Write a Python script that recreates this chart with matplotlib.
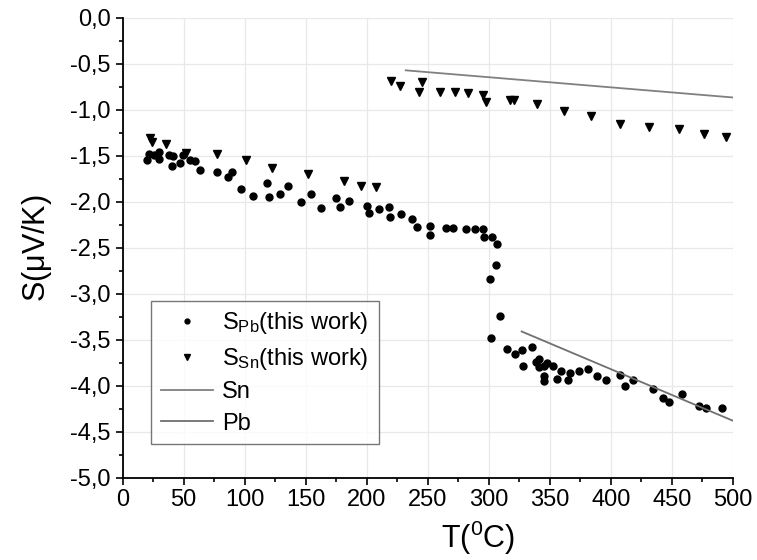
import matplotlib
matplotlib.use("Agg")
from matplotlib import pyplot as plt
from matplotlib.ticker import MultipleLocator, FuncFormatter

plt.rcParams['font.family'] = ['Liberation Sans', 'DejaVu Sans']
plt.rcParams['mathtext.fontset'] = 'custom'
plt.rcParams['mathtext.rm'] = 'Liberation Sans'
plt.rcParams['mathtext.it'] = 'Liberation Sans'
plt.rcParams['mathtext.default'] = 'regular'

# S_Pb measured (circles)
tPb = [19.8, 22.0, 25.3, 30.2, 30.2, 37.6, 41.1, 40.3, 47.1, 49.8, 54.8, 59.4, 63.0,
       77.2, 86.7, 90.0, 97.1, 106.7, 118.2, 120.1, 129.1, 135.4, 146.3, 154.5, 162.4,
       175.0, 178.3, 185.1, 200.1, 202.0, 210.2, 218.4, 219.3, 228.3, 237.0, 241.6,
       252.0, 252.0, 264.9, 270.6, 281.3, 289.0, 295.2, 296.3, 302.6, 306.7, 306.1,
       300.7, 309.4, 301.8, 314.9, 321.7, 327.2, 328.0, 335.4, 338.9, 341.6, 340.8,
       344.9, 347.7, 344.9, 345.5, 352.6, 355.9, 359.2, 364.9, 366.8, 373.6, 381.3,
       388.7, 396.3, 407.2, 411.6, 418.2, 434.3, 442.5, 447.4, 458.6, 472.3, 478.3, 490.8]
sPb = [-1.55, -1.475, -1.49, -1.455, -1.53, -1.49, -1.50, -1.61, -1.575, -1.49, -1.54,
       -1.56, -1.65, -1.68, -1.73, -1.68, -1.865, -1.935, -1.79, -1.95, -1.92, -1.83,
       -2.007, -1.916, -2.07, -1.957, -2.06, -1.99, -2.04, -2.12, -2.08, -2.06, -2.17,
       -2.13, -2.19, -2.27, -2.26, -2.36, -2.28, -2.29, -2.30, -2.30, -2.30, -2.38,
       -2.38, -2.46, -2.69, -2.84, -3.24, -3.48, -3.60, -3.65, -3.61, -3.79, -3.58,
       -3.74, -3.71, -3.80, -3.79, -3.75, -3.89, -3.95, -3.79, -3.93, -3.84, -3.94,
       -3.86, -3.84, -3.82, -3.89, -3.94, -3.88, -4.00, -3.94, -4.04, -4.13, -4.18,
       -4.09, -4.22, -4.24, -4.24]

# S_Sn measured (triangles)
tSn = [22.5, 24.4, 35.7, 52.0, 77.2, 101.0, 122.3, 151.5, 181.0, 195.2, 207.8,
       220.1, 226.9, 245.7, 242.5, 259.7, 272.0, 283.4, 295.7, 298.0, 317.6, 321.1,
       339.5, 361.9, 384.0, 407.8, 431.6, 455.9, 476.1, 494.7]
sSn = [-1.31, -1.35, -1.37, -1.47, -1.475, -1.54, -1.63, -1.70, -1.77, -1.826, -1.837,
       -0.685, -0.74, -0.70, -0.81, -0.81, -0.81, -0.82, -0.84, -0.91, -0.895, -0.895,
       -0.94, -1.01, -1.07, -1.15, -1.19, -1.21, -1.26, -1.30]

# reference lines
tSnLine = [232, 500]
sSnLine = [-0.57, -0.865]
tPbLine = [327, 500]
sPbLine = [-3.41, -4.38]

fig = plt.figure(figsize=(7.57, 5.6), dpi=100)
ax = fig.add_axes([0.162, 0.147, 0.806, 0.821])

ax.plot(tPb, sPb, 'o', color='black', markersize=5, label=r'S$_{Pb}$(this work)')
ax.plot(tSn, sSn, 'v', color='black', markersize=6, label=r'S$_{Sn}$(this work)')
ax.plot(tSnLine, sSnLine, '-', color='#808080', linewidth=1.3, label='Sn')
ax.plot(tPbLine, sPbLine, '-', color='#707070', linewidth=1.3, label='Pb')

ax.set_xlim(0, 500)
ax.set_ylim(-5.0, 0.0)
ax.xaxis.set_major_locator(MultipleLocator(50))
ax.xaxis.set_minor_locator(MultipleLocator(25))
ax.yaxis.set_major_locator(MultipleLocator(0.5))
ax.yaxis.set_minor_locator(MultipleLocator(0.25))
ax.yaxis.set_major_formatter(FuncFormatter(lambda v, p: f"{v:.1f}".replace('.', ',').replace('-0,0', '0,0')))

ax.grid(True, which='major', color='#e8e8e8', linewidth=0.9)
ax.set_axisbelow(True)
for side in ['top', 'right']:
    ax.spines[side].set_visible(False)
for side in ['left', 'bottom']:
    ax.spines[side].set_linewidth(1.3)
ax.tick_params(which='major', direction='out', length=5, width=1.2, labelsize=17)
ax.tick_params(which='minor', direction='out', length=3, width=1.2)

ax.set_ylabel(r'S($\mu$V/K)', fontsize=22, labelpad=12)
ax.text(0.582, -0.13, r'T($^{0}$C)', transform=ax.transAxes, fontsize=22,
        ha='center', va='center')

leg = ax.legend(loc='lower left', bbox_to_anchor=(0.047, 0.073, 0.373, 0.352),
                mode='expand', fontsize=17, frameon=True, fancybox=False,
                edgecolor='#555555', handlelength=2.2, handletextpad=0.4,
                borderaxespad=0, labelspacing=0.4, markerscale=0.7)
leg.get_frame().set_linewidth(1.0)

fig.savefig('out.png', dpi=100)
